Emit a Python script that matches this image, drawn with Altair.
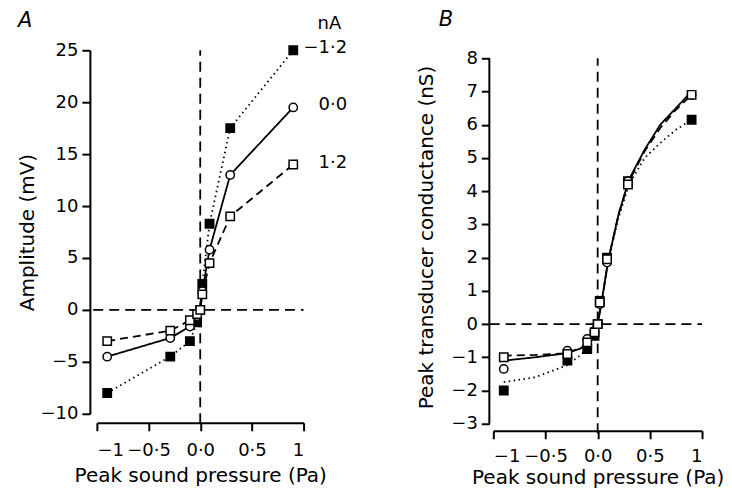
import altair as alt
import pandas as pd

# ---------- Panel A data (amplitude, mV) ----------
pressure = [-0.9, -0.29, -0.1, -0.03, 0.0, 0.02, 0.09, 0.29, 0.9]
series_keys = ["-1.2", "0.0", "1.2"]
series_labels = ["\u22121\u00b72", "0\u00b70", "1\u00b72"]
amp_m12 = [-8.0, -4.5, -3.0, -1.2, 0.0, 2.5, 8.3, 17.5, 25.0]
amp_00 = [-4.5, -2.7, -1.6, -0.6, 0.0, 1.8, 5.8, 13.0, 19.5]
amp_p12 = [-3.0, -2.0, -1.0, -0.4, 0.0, 1.5, 4.5, 9.0, 14.0]

# ---------- Panel B data (conductance, nS) ----------
cond_m12 = [-2.0, -1.1, -0.75, -0.35, 0.0, 0.7, 2.0, 4.3, 6.15]
cond_00 = [-1.35, -0.8, -0.45, -0.2, 0.0, 0.6, 1.85, 4.3, 6.9]
cond_p12 = [-1.0, -0.9, -0.55, -0.25, 0.0, 0.65, 1.95, 4.2, 6.9]

# fitted curves
fit_x = [-0.9, -0.6, -0.3, -0.15, -0.05, 0.0, 0.05, 0.1, 0.2, 0.3, 0.45, 0.6, 0.75, 0.9]
fit_m12 = [-1.75, -1.6, -1.25, -0.9, -0.45, 0.0, 0.9, 1.9, 3.2, 4.2, 5.0, 5.45, 5.85, 6.15]
fit_00 = [-1.1, -1.0, -0.88, -0.72, -0.4, 0.0, 0.9, 1.9, 3.3, 4.35, 5.25, 6.0, 6.5, 7.0]
fit_p12 = [-0.95, -0.93, -0.88, -0.7, -0.4, 0.0, 0.9, 1.9, 3.3, 4.3, 5.2, 5.9, 6.45, 6.9]

x_ticks = [-1, -0.5, 0, 0.5, 1]
x_tick_labels = ["\u22121", "\u22120\u00b75", "0\u00b70", "0\u00b75", "1"]
ticksA = [-10, -5, 0, 5, 10, 15, 20, 25]
ticksB = [-3, -2, -1, 0, 1, 2, 3, 4, 5, 6, 7, 8]
legend_title = "nA"

FONT = "DejaVu Sans"

def long_df(xs, cols):
    rows = []
    for key, vals in zip(series_keys, cols):
        for x, v in zip(xs, vals):
            rows.append({"x": x, "y": v, "s": key})
    return pd.DataFrame(rows)

label_expr = ""
for v, lab in zip(x_ticks, x_tick_labels):
    label_expr += f"datum.value == {v} ? '{lab}' : "
label_expr += "datum.label"

dash_scale = alt.Scale(domain=series_keys, range=[[1.5, 3.5], [1, 0], [8, 5]])
shape_scale = alt.Scale(domain=series_keys, range=["square", "circle", "square"])
fill_scale = alt.Scale(domain=series_keys, range=["black", "white", "white"])


def panel(pts_df, line_df, ydom, yticks, ytitle, xoff, yoff, w, h, title_txt, title_dx,
          title_off, ytitle_pad, xlab_pad, xtitle_pad, own_domain_line=None, extra=None):
    xs = alt.Scale(domain=[-1, 1], nice=False, zero=False)
    ys = alt.Scale(domain=ydom, nice=False, zero=False)
    xax = alt.Axis(values=x_ticks, labelExpr=label_expr, title="Peak sound pressure (Pa)",
                   offset=xoff, grid=False, labelOverlap=False, labelPadding=xlab_pad,
                   titlePadding=xtitle_pad)
    yax = alt.Axis(values=yticks, title=ytitle, offset=yoff, grid=False, labelOverlap=False,
                   titlePadding=ytitle_pad, domain=own_domain_line is None)
    X = lambda f: alt.X(f, scale=xs, axis=xax)
    Y = lambda f: alt.Y(f, scale=ys, axis=yax)
    top = yticks[-1]
    vdf = pd.DataFrame({"x": [0.0], "y1": [ydom[0] - 0.026 * (top - ydom[0])], "y2": [top]})
    hdf = pd.DataFrame({"x1": [-1.035], "x2": [1.0], "y": [0.0]})
    vrule = alt.Chart(vdf).mark_rule(strokeDash=[10, 6], strokeWidth=1.8, color="black").encode(
        x=X("x:Q"), y=Y("y1:Q"), y2="y2:Q")
    hrule = alt.Chart(hdf).mark_rule(strokeDash=[10, 6], strokeWidth=1.8, color="black").encode(
        x=X("x1:Q"), x2="x2:Q", y=Y("y:Q"))
    lines = alt.Chart(line_df).mark_line(color="black", strokeWidth=1.8).encode(
        x=X("x:Q"), y=Y("y:Q"),
        strokeDash=alt.StrokeDash("s:N", scale=dash_scale, legend=None),
        detail="s:N")
    pts = alt.Chart(pts_df).mark_point(filled=True, size=70, stroke="black", strokeWidth=1.5, opacity=1).encode(
        x=X("x:Q"), y=Y("y:Q"),
        shape=alt.Shape("s:N", scale=shape_scale, legend=None),
        fill=alt.Fill("s:N", scale=fill_scale, legend=None))
    layers = [vrule, hrule, lines, pts]
    if own_domain_line is not None:
        ddf = pd.DataFrame({"x": [own_domain_line], "y1": [yticks[0]], "y2": [top]})
        layers.append(alt.Chart(ddf).mark_rule(strokeWidth=2, color="black").encode(
            x=X("x:Q"), y=Y("y1:Q"), y2="y2:Q"))
    if extra is not None:
        layers += extra(X, Y)
    return alt.layer(*layers).properties(
        width=w, height=h,
        title=alt.TitleParams(title_txt, anchor="start", fontStyle="italic", fontSize=21,
                              font=FONT, fontWeight="normal", dx=title_dx, offset=title_off))


def labels_layer(X, Y):
    ldf = pd.DataFrame({"x": [pressure[-1]] * 3, "y": [amp_m12[-1], amp_00[-1], amp_p12[-1]],
                        "t": series_labels})
    ndf = pd.DataFrame({"x": [pressure[-1]], "y": [27.5], "t": [legend_title]})
    t1 = alt.Chart(ldf).mark_text(align="right", baseline="middle", dx=54, dy=-2, fontSize=18,
                                  font=FONT, color="black").encode(
        x=X("x:Q"), y=Y("y:Q"), text="t:N")
    t2 = alt.Chart(ndf).mark_text(align="right", baseline="middle", dx=48, fontSize=18,
                                  font=FONT, color="black").encode(
        x=X("x:Q"), y=Y("y:Q"), text="t:N")
    return [t1, t2]


ptsA = long_df(pressure, [amp_m12, amp_00, amp_p12])
ptsB = long_df(pressure, [cond_m12, cond_00, cond_p12])
fitB = long_df(fit_x, [fit_m12, fit_00, fit_p12])

A = panel(ptsA, ptsA, [-10, 25], ticksA, "Amplitude (mV)",
          9, 7, 207, 364, "A", 0, -16, 2, 11, 6, extra=labels_layer)
B = panel(ptsB, fitB, [-3, 8.24], ticksB, "Peak transducer conductance (nS)",
          7, 4, 209, 374, "B", 22, 19, 14, 9, 2, own_domain_line=-1.038)

chart = alt.hconcat(A, B, spacing=69).properties(
    padding={"left": 10, "top": 0, "right": 0, "bottom": 0}
).configure_view(stroke=None).configure_axis(
    domainColor="black", domainWidth=2, tickColor="black", tickWidth=2, tickSize=8,
    labelColor="black", titleColor="black", labelFont=FONT, titleFont=FONT,
    labelFontSize=18, titleFontSize=20, titleFontWeight="normal", labelPadding=4,
    labelOverlap=False
)

chart.save("out.html", embed_options={"renderer": "svg", "actions": False})
